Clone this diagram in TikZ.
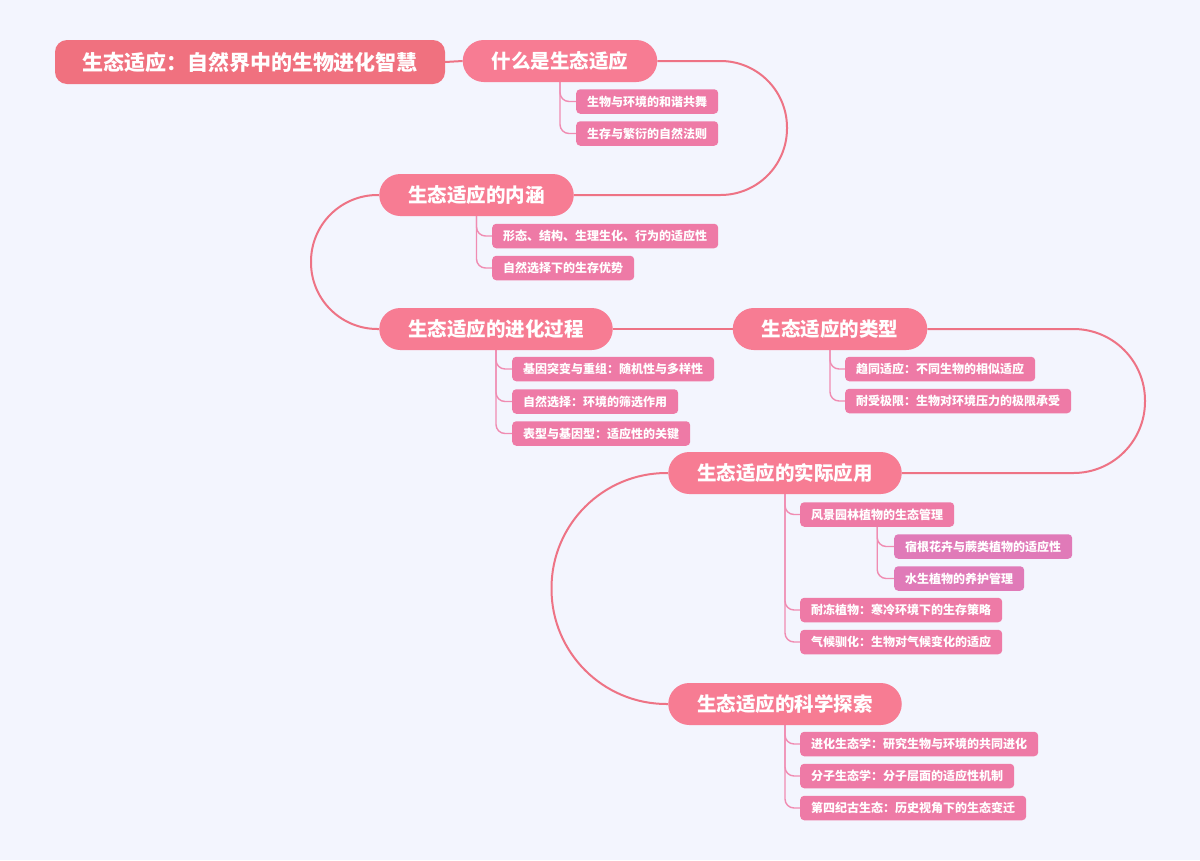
\documentclass[tikz,border=0pt]{standalone}
\usepackage{fontspec}
\newfontfamily\cjk{Noto Sans CJK SC}
\usetikzlibrary{backgrounds}
\definecolor{bgc}{HTML}{F3F5FE}
\definecolor{rootc}{HTML}{F0717F}
\definecolor{topc}{HTML}{F77C93}
\definecolor{subc}{HTML}{EE7AA6}
\definecolor{thirdc}{HTML}{E07AB8}
\definecolor{linec}{HTML}{EE7385}
\definecolor{brc}{HTML}{F08CB2}
\tikzset{
  rootbox/.style={fill=rootc, rounded corners=12pt, text=white, inner xsep=27pt, minimum height=44pt,
    font=\cjk\bfseries\fontsize{21}{21}\selectfont},
  topbox/.style={fill=topc, rounded corners=21pt, text=white, inner xsep=29pt, minimum height=42pt,
    font=\cjk\bfseries\fontsize{19.5}{20}\selectfont},
  subbox/.style={fill=subc, rounded corners=4pt, text=white, inner xsep=11pt, minimum height=24.5pt,
    anchor=west, font=\cjk\bfseries\fontsize{12}{12}\selectfont},
  thirdbox/.style={subbox, fill=thirdc},
  mainline/.style={draw=linec, line width=2pt},
  brline/.style={draw=brc, line width=1.4pt, rounded corners=9pt},
}
\begin{document}
\begin{tikzpicture}[x=1pt,y=-1pt]
\useasboundingbox (0,0) rectangle (1200,860);
% main nodes
\node[rootbox] (root) at (250,62) {生态适应：自然界中的生物进化智慧};
\node[topbox] (t1) at (560,61) {什么是生态适应};
\node[topbox] (t2) at (476.5,195) {生态适应的内涵};
\node[topbox] (t3) at (496,329) {生态适应的进化过程};
\node[topbox] (t4) at (830,329) {生态适应的类型};
\node[topbox] (t5) at (785,473) {生态适应的实际应用};
\node[topbox] (t6) at (785,704) {生态适应的科学探索};
% sub nodes
\node[subbox] (s11) at (576,101.5) {生物与环境的和谐共舞};
\node[subbox] (s12) at (576,133.5) {生存与繁衍的自然法则};
\node[subbox] (s21) at (492,236) {形态、结构、生理生化、行为的适应性};
\node[subbox] (s22) at (492,268) {自然选择下的生存优势};
\node[subbox] (s31) at (512,369) {基因突变与重组：随机性与多样性};
\node[subbox] (s32) at (512,401.5) {自然选择：环境的筛选作用};
\node[subbox] (s33) at (512,433.5) {表型与基因型：适应性的关键};
\node[subbox] (s41) at (845,369) {趋同适应：不同生物的相似适应};
\node[subbox] (s42) at (845,401) {耐受极限：生物对环境压力的极限承受};
\node[subbox] (s51) at (800,514.5) {风景园林植物的生态管理};
\node[thirdbox] (s511) at (894,546.5) {宿根花卉与蕨类植物的适应性};
\node[thirdbox] (s512) at (894,578.5) {水生植物的养护管理};
\node[subbox] (s52) at (800,610) {耐冻植物：寒冷环境下的生存策略};
\node[subbox] (s53) at (800,642) {气候驯化：生物对气候变化的适应};
\node[subbox] (s61) at (800,744) {进化生态学：研究生物与环境的共同进化};
\node[subbox] (s62) at (800,776) {分子生态学：分子层面的适应性机制};
\node[subbox] (s63) at (800,808) {第四纪古生态：历史视角下的生态变迁};
\coordinate (c1) at (787,0);
\coordinate (c2) at (311,0);
\coordinate (c4) at (1145,0);
\coordinate (c5) at (551.5,0);
\begin{pgfonlayer}{background}
\fill[bgc] (0,0) rectangle (1200,860);
\draw[mainline] (root.east) -- (t1.west);
\draw[mainline, rounded corners=66.5pt] (t1.east) -- (t1.east -| c1) -- (t2.east -| c1) -- (t2.east);
\draw[mainline, rounded corners=66.5pt] (t2.west) -- (t2.west -| c2) -- (t3.west -| c2) -- (t3.west);
\draw[mainline] (t3.east) -- (t4.west);
\draw[mainline, rounded corners=71.5pt] (t4.east) -- (t4.east -| c4) -- (t5.east -| c4) -- (t5.east);
\draw[mainline, rounded corners=115pt] (t5.west) -- (t5.west -| c5) -- (t6.west -| c5) -- (t6.west);
\foreach \p/\c in {t1/s11,t1/s12,t2/s21,t2/s22,t3/s31,t3/s32,t3/s33,t4/s41,t4/s42,
  t5/s51,t5/s52,t5/s53,s51/s511,s51/s512,t6/s61,t6/s62,t6/s63}
  \draw[brline] (\p.south) |- (\c.west);
\end{pgfonlayer}
\end{tikzpicture}
\end{document}
